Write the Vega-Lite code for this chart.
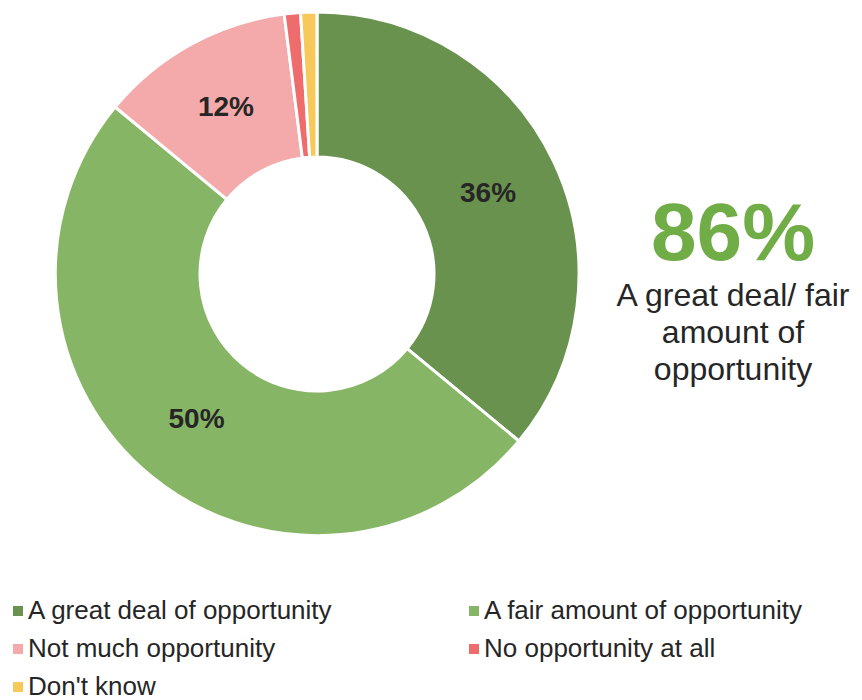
{
  "$schema": "https://vega.github.io/schema/vega-lite/v6.json",
  "width": 634,
  "height": 548,
  "padding": 0,
  "autosize": {"type": "pad"},
  "background": "white",
  "data": {
    "values": [
      {"category": "A great deal of opportunity", "value": 36, "order": 1, "label": "36%"},
      {"category": "A fair amount of opportunity", "value": 50, "order": 2, "label": "50%"},
      {"category": "Not much opportunity", "value": 12, "order": 3, "label": "12%"},
      {"category": "No opportunity at all", "value": 1, "order": 4, "label": "1%"},
      {"category": "Don't know", "value": 1, "order": 5, "label": "1%"}
    ]
  },
  "title": {
    "text": "86%",
    "subtitle": ["A great deal/ fair", "amount of", "opportunity"],
    "orient": "top",
    "anchor": "end",
    "frame": "group",
    "align": "center",
    "baseline": "top",
    "dx": 99,
    "offset": -387,
    "font": "Liberation Sans",
    "fontSize": 82,
    "fontWeight": "bold",
    "color": "#70ad47",
    "subtitleFont": "Liberation Sans",
    "subtitleFontSize": 32,
    "subtitleColor": "#262626",
    "subtitleLineHeight": 37,
    "subtitlePadding": 4
  },
  "encoding": {
    "theta": {"field": "value", "type": "quantitative", "stack": true},
    "order": {"field": "order", "type": "quantitative"}
  },
  "layer": [
    {
      "mark": {"type": "arc", "innerRadius": 117, "outerRadius": 262, "stroke": "white", "strokeWidth": 3},
      "encoding": {
        "color": {
          "field": "category",
          "type": "nominal",
          "sort": null,
          "scale": {
            "domain": ["A great deal of opportunity", "A fair amount of opportunity", "Not much opportunity", "No opportunity at all", "Don't know"],
            "range": ["#6a924f", "#86b665", "#f4aaab", "#ee6c6c", "#f7c85a"]
          },
          "legend": {
            "orient": "none",
            "legendX": 5,
            "legendY": 598,
            "columns": 2,
            "direction": "horizontal",
            "title": null,
            "padding": 0,
            "symbolType": "square",
            "symbolSize": 100,
            "symbolStrokeWidth": 0,
            "labelFont": "Liberation Sans",
            "labelFontSize": 26,
            "labelColor": "#262626",
            "labelOffset": -3,
            "labelLimit": 500,
            "columnPadding": 128,
            "rowPadding": 12
          }
        }
      }
    },
    {
      "mark": {"type": "text", "radius": 189, "font": "Liberation Sans", "fontSize": 28, "fontWeight": "bold"},
      "encoding": {
        "text": {"condition": {"test": "datum.value >= 5", "field": "label"}, "value": ""},
        "color": {"value": "#262626"}
      }
    }
  ],
  "config": {"view": {"stroke": null}}
}
